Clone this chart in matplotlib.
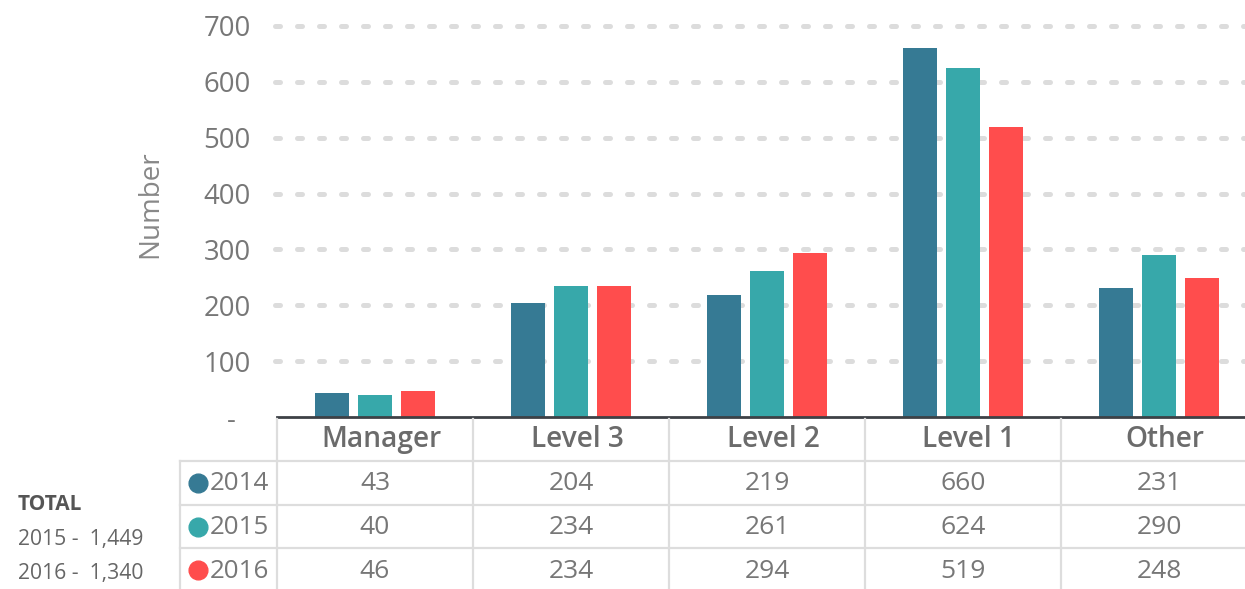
import matplotlib
matplotlib.use("Agg")
import matplotlib.pyplot as plt
from matplotlib.lines import Line2D
from matplotlib.transforms import blended_transform_factory, ScaledTranslation
import numpy as np

plt.rcParams['font.family'] = ['Open Sans', 'DejaVu Sans']

categories = ["Manager", "Level 3", "Level 2", "Level 1", "Other"]
years = ["2014", "2015", "2016"]
values_2014 = [43, 204, 219, 660, 231]
values_2015 = [40, 234, 261, 624, 290]
values_2016 = [46, 234, 294, 519, 248]
colors = ["#367A94", "#37A8AA", "#FF4D4D"]
yticks = [0, 100, 200, 300, 400, 500, 600, 700]
ytick_labels = ["-  ", "100", "200", "300", "400", "500", "600", "700"]
total_title = "TOTAL"
total_lines = ["2015 -  1,449", "2016 -  1,340"]

W, H = 1245, 589
fig = plt.figure(figsize=(W / 100, H / 100), dpi=100)

def fx(px):
    return px / W

def fy(py):
    return 1 - py / H

ax = fig.add_axes([fx(277), fy(417), 980 / W, 391 / H])
ax.set_xlim(-0.5, 4.5)
ax.set_ylim(0, 700)

series = [values_2014, values_2015, values_2016]
x = np.arange(len(categories))
offsets = [-0.22, 0.0, 0.22]
for vals, off, c in zip(series, offsets, colors):
    ax.bar(x + off, vals, width=0.174, color=c, zorder=3)

# grid lines
for yv in yticks[1:]:
    ax.add_line(Line2D([-0.51, 4.5], [yv, yv], color="#dcdcdc", lw=3.6,
                       linestyle=(0, (1, 3.4)), dash_capstyle="round",
                       clip_on=False, zorder=1))

for s in ax.spines.values():
    s.set_visible(False)
ax.set_xticks([])
ax.set_yticks(yticks)
ax.set_yticklabels(ytick_labels)
ax.tick_params(axis="y", length=0, pad=19, labelsize=19.8, labelcolor="#777777")

# baseline
ax.add_line(Line2D([-0.5, 4.5], [0, 0], color="#3d4146", lw=2, clip_on=False, zorder=4))

fig.text(fx(150), fy(204), "Number", rotation=90, ha="center", va="center",
         fontsize=20, color="#888888")

# table
tb = blended_transform_factory(ax.transData, fig.transFigure)
grid_c = "#dddddd"
for b in np.arange(-0.5, len(categories), 1.0):
    fig.add_artist(Line2D([b, b], [fy(419), 0], transform=tb, color=grid_c, lw=1.6))
fig.add_artist(Line2D([fx(180), fx(180)], [fy(461), 0], transform=fig.transFigure,
                      color=grid_c, lw=1.6))
for py in [461, 505, 548]:
    fig.add_artist(Line2D([fx(180), 1], [fy(py), fy(py)], transform=fig.transFigure,
                          color=grid_c, lw=1.6))

hdr_t = tb + ScaledTranslation(0.06, 0, fig.dpi_scale_trans)
for i, cat in enumerate(categories):
    fig.text(i, fy(439.5), cat, transform=hdr_t, ha="center", va="center",
             fontsize=20.2, color="#6b6b6b", fontweight="semibold")

row_y = [484, 528, 571]
for r, (yr, vals, c) in enumerate(zip(years, series, colors)):
    py = row_y[r]
    fig.add_artist(Line2D([fx(198)], [fy(py - 1.5)], marker="o", markersize=13.5,
                          color=c, transform=fig.transFigure, linestyle="none"))
    fig.text(fx(210), fy(py), yr, ha="left", va="center", fontsize=18.7,
             color="#777777")
    for i, v in enumerate(vals):
        fig.text(i, fy(py), str(v), transform=tb, ha="center", va="center",
                 fontsize=19, color="#777777")

fig.text(fx(18), fy(505), total_title, ha="left", va="center", fontsize=15,
         color="#555555", fontweight="bold")
for py, t in zip([540, 574], total_lines):
    fig.text(fx(18), fy(py), t, ha="left", va="center", fontsize=15.2, color="#666666")

fig.savefig("out.png", dpi=100)
